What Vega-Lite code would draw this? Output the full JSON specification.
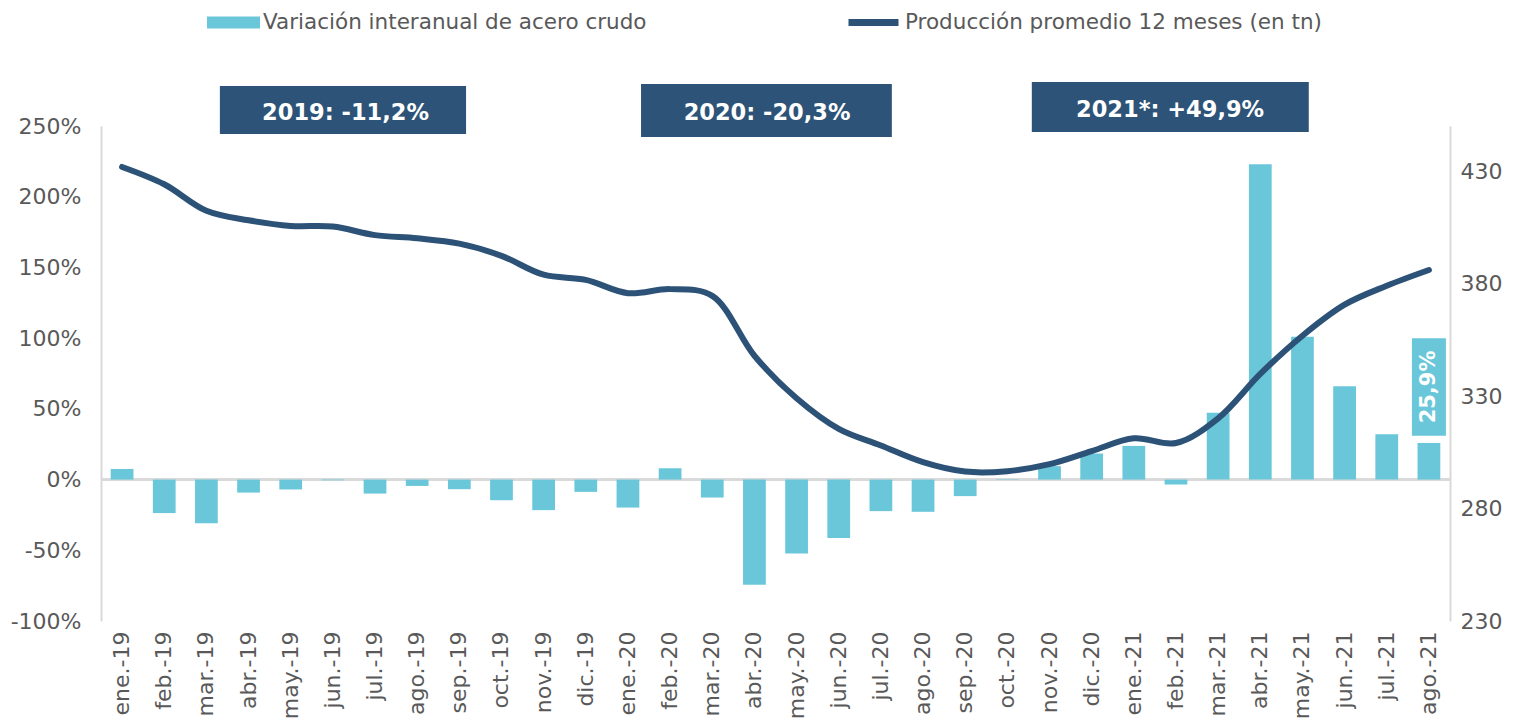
{
  "$schema": "https://vega.github.io/schema/vega-lite/v6.json",
  "width": 1349,
  "height": 495,
  "autosize": {"type": "none"},
  "padding": {"left": 101, "top": 126, "right": 66, "bottom": 101},
  "config": {"font": "DejaVu Sans", "view": {"stroke": null}},
  "datasets": {
    "serie": [
      {"mes": "ene.-19", "var": 7.5, "prod": 431.8},
      {"mes": "feb.-19", "var": -23.7, "prod": 424.1},
      {"mes": "mar.-19", "var": -30.8, "prod": 412.3},
      {"mes": "abr.-19", "var": -9.2, "prod": 408.1},
      {"mes": "may.-19", "var": -7.0, "prod": 405.6},
      {"mes": "jun.-19", "var": -0.5, "prod": 405.3},
      {"mes": "jul.-19", "var": -9.9, "prod": 401.5},
      {"mes": "ago.-19", "var": -4.5, "prod": 400.1},
      {"mes": "sep.-19", "var": -6.8, "prod": 397.7},
      {"mes": "oct.-19", "var": -14.6, "prod": 392.3},
      {"mes": "nov.-19", "var": -21.6, "prod": 383.9},
      {"mes": "dic.-19", "var": -8.7, "prod": 381.6},
      {"mes": "ene.-20", "var": -19.8, "prod": 375.7},
      {"mes": "feb.-20", "var": 8.0, "prod": 377.5},
      {"mes": "mar.-20", "var": -12.7, "prod": 374.5},
      {"mes": "abr.-20", "var": -74.4, "prod": 347.9},
      {"mes": "may.-20", "var": -52.3, "prod": 329.0},
      {"mes": "jun.-20", "var": -41.4, "prod": 315.4},
      {"mes": "jul.-20", "var": -22.3, "prod": 308.0},
      {"mes": "ago.-20", "var": -22.8, "prod": 300.6},
      {"mes": "sep.-20", "var": -11.7, "prod": 296.4},
      {"mes": "oct.-20", "var": -0.3, "prod": 296.6},
      {"mes": "nov.-20", "var": 9.5, "prod": 299.7},
      {"mes": "dic.-20", "var": 18.4, "prod": 305.5},
      {"mes": "ene.-21", "var": 23.8, "prod": 311.2},
      {"mes": "feb.-21", "var": -3.5, "prod": 309.1},
      {"mes": "mar.-21", "var": 47.3, "prod": 320.1},
      {"mes": "abr.-21", "var": 223.0, "prod": 339.8},
      {"mes": "may.-21", "var": 101.0, "prod": 356.8},
      {"mes": "jun.-21", "var": 65.9, "prod": 370.6},
      {"mes": "jul.-21", "var": 32.0, "prod": 379.0},
      {"mes": "ago.-21", "var": 25.9, "prod": 386.0}
    ],
    "cajas": [
      {"texto": "2019: -11,2%", "x0": 2.82, "x1": 8.66, "y0": 244.4, "y1": 278.2, "tx": 5.8, "ty": 259.5},
      {"texto": "2020: -20,3%", "x0": 12.81, "x1": 18.76, "y0": 242.2, "y1": 279.7, "tx": 15.8, "ty": 259.5},
      {"texto": "2021*: +49,9%", "x0": 22.08, "x1": 28.65, "y0": 245.8, "y1": 281.1, "tx": 25.36, "ty": 261.0}
    ]
  },
  "layer": [
    {
      "data": {"name": "serie"},
      "encoding": {
        "x": {
          "field": "mes", "type": "nominal", "sort": null,
          "scale": {"paddingInner": 0.46, "paddingOuter": 0.23},
          "axis": {
            "title": null, "labelAngle": -90, "domain": false, "ticks": false,
            "labelPadding": 10, "labelFontSize": 22, "labelColor": "#595959"
          }
        }
      },
      "layer": [
        {
          "mark": {"type": "rule", "color": "#D9D9D9", "strokeWidth": 2},
          "encoding": {
            "x": null,
            "y": {"datum": 0, "type": "quantitative", "scale": {"domain": [-100, 250], "nice": false, "zero": false}}
          }
        },
        {
          "mark": {"type": "bar"},
          "encoding": {
            "y": {
              "field": "var", "type": "quantitative",
              "scale": {"domain": [-100, 250], "nice": false, "zero": false},
              "axis": {
                "title": null, "values": [-100, -50, 0, 50, 100, 150, 200, 250],
                "labelExpr": "datum.value + '%'", "grid": false, "ticks": false,
                "domainColor": "#D9D9D9", "domainWidth": 2,
                "labelFontSize": 22, "labelColor": "#595959", "labelPadding": 20
              }
            },
            "y2": {"datum": 0},
            "color": {
              "datum": "Variación interanual de acero crudo",
              "scale": {"range": ["#6AC7DA"]},
              "legend": {
                "title": null, "orient": "none", "legendX": 106, "legendY": -130,
                "symbolType": "M-1,-0.23H1V0.23H-1Z", "symbolSize": 2809,
                "symbolStrokeWidth": 0, "labelFontSize": 21.5, "labelColor": "#595959",
                "labelOffset": 3, "padding": 0, "labelLimit": 0
              }
            }
          }
        },
        {
          "transform": [{"filter": "datum.mes == 'ago.-21'"}],
          "mark": {"type": "bar", "color": "#6AC7DA", "width": 34},
          "encoding": {
            "y": {"datum": 31, "type": "quantitative"},
            "y2": {"datum": 100}
          }
        },
        {
          "transform": [{"filter": "datum.mes == 'ago.-21'"}],
          "mark": {"type": "text", "color": "white", "fontWeight": "bold", "fontSize": 21, "angle": 270, "align": "center", "baseline": "middle", "dx": 0},
          "encoding": {
            "y": {"datum": 65.5, "type": "quantitative"},
            "text": {"value": "25,9%"}
          }
        }
      ]
    },
    {
      "data": {"name": "serie"},
      "mark": {"type": "line", "interpolate": "catmull-rom", "strokeWidth": 6, "strokeCap": "round"},
      "encoding": {
        "x": {
          "field": "mes", "type": "nominal", "sort": null,
          "scale": {"paddingInner": 0.46, "paddingOuter": 0.23},
          "axis": null
        },
        "y": {
          "field": "prod", "type": "quantitative",
          "scale": {"domain": [230, 450], "nice": false, "zero": false},
          "axis": {
            "orient": "right", "title": null, "values": [230, 280, 330, 380, 430],
            "grid": false, "ticks": false, "domainColor": "#D9D9D9", "domainWidth": 2,
            "labelFontSize": 22, "labelColor": "#595959", "labelPadding": 10
          }
        },
        "color": {
          "datum": "Producción promedio 12 meses (en tn)",
          "scale": {"range": ["#2C5277"]},
          "legend": {
            "title": null, "orient": "none", "legendX": 744, "legendY": -132,
            "symbolType": "stroke", "symbolSize": 2500, "symbolStrokeWidth": 7,
            "labelFontSize": 21.5, "labelColor": "#595959", "labelOffset": 3, "padding": 0, "labelLimit": 0
          }
        }
      }
    },
    {
      "data": {"name": "cajas"},
      "encoding": {
        "x": {"type": "quantitative", "scale": {"domain": [0, 32], "nice": false, "zero": false}, "axis": null},
        "y": {"type": "quantitative", "scale": {"domain": [-100, 250], "nice": false, "zero": false}, "axis": null}
      },
      "layer": [
        {
          "mark": {"type": "rect", "color": "#2D5478"},
          "encoding": {
            "x": {"field": "x0", "type": "quantitative", "scale": {"domain": [0, 32], "nice": false, "zero": false}, "axis": null},
            "x2": {"field": "x1"},
            "y": {"field": "y0", "type": "quantitative", "scale": {"domain": [-100, 250], "nice": false, "zero": false}, "axis": null},
            "y2": {"field": "y1"}
          }
        },
        {
          "mark": {"type": "text", "color": "white", "fontWeight": "bold", "fontSize": 22.5, "align": "center", "baseline": "middle"},
          "encoding": {
            "x": {"field": "tx", "type": "quantitative"},
            "y": {"field": "ty", "type": "quantitative"},
            "text": {"field": "texto"}
          }
        }
      ]
    }
  ],
  "resolve": {"scale": {"x": "independent", "y": "independent", "color": "independent"}}
}
